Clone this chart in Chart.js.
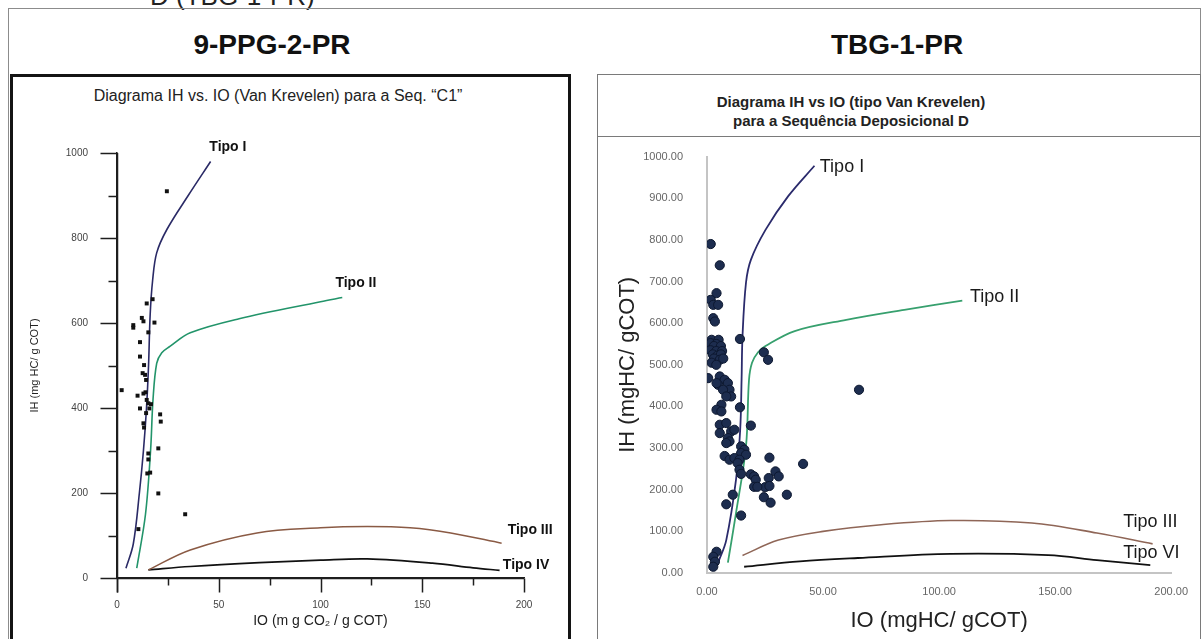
<!DOCTYPE html>
<html>
<head>
<meta charset="utf-8">
<script src="https://cdn.jsdelivr.net/npm/chart.js@4.4.1/dist/chart.umd.min.js"></script>
<style>
  html, body { margin: 0; padding: 0; background: #fff; width: 1203px; height: 639px; overflow: hidden;
    font-family: "Liberation Sans", Arial, sans-serif; color: #111; }
  .abs { position: absolute; }
  .ctr { text-align: center; white-space: nowrap; }
  canvas.abs { z-index: 2; }
  #topcut { left: 150px; top: -19px; font-size: 26px; color: #222; }
  #frame { left: 8px; top: 8px; width: 1193px; height: 640px; border: 1px solid #8c8c8c; box-sizing: border-box; }
  .well { font-weight: bold; font-size: 28px; }
  #leftBox { left: 10px; top: 74px; width: 561px; height: 590px; border: 3px solid #141414; box-sizing: border-box; }
  #leftSub { font-size: 16px; color: #222; }
  #rightBox { left: 597px; top: 74px; width: 604px; height: 590px; border: 1.5px solid #7a7a7a; box-sizing: border-box; }
  #rightHeadLine { left: 597px; top: 136px; width: 604px; height: 0; border-top: 1.5px solid #7a7a7a; }
  .rt { font-size: 15px; font-weight: bold; color: #222; }
</style>
</head>
<body>
<div id="topcut" class="abs">D (TBG-1-PR)</div>
<div id="frame" class="abs"></div>
<div class="abs ctr well" style="left:72px;top:29px;width:400px;">9-PPG-2-PR</div>
<div class="abs ctr well" style="left:697px;top:29px;width:400px;">TBG-1-PR</div>

<div id="leftBox" class="abs"></div>
<div id="leftSub" class="abs ctr" style="left:78px;top:87px;width:400px;">Diagrama IH vs. IO (Van Krevelen) para a Seq. “C1”</div>

<div id="rightBox" class="abs"></div>
<div id="rightHeadLine" class="abs"></div>
<div class="abs ctr rt" style="left:651px;top:93px;width:400px;">Diagrama IH vs IO (tipo Van Krevelen)</div>
<div class="abs ctr rt" style="left:651px;top:112px;width:400px;">para a Sequência Deposicional D</div>

<canvas id="cLeft" class="abs" width="555" height="521" style="left:13px;top:118px;"></canvas>
<canvas id="cRight" class="abs" width="601" height="513" style="left:599px;top:126px;"></canvas>

<script>
// ---------- 9-PPG-2-PR, Seq. "C1" ----------
const c1IO = [24.5, 14.6, 17.5, 8, 8, 12.2, 13, 18.4, 15.4, 11.3, 11.3, 13.3, 12.6, 13.8, 14.3, 2.3, 10.1, 14, 13,
  14.6, 11.3, 15.4, 16.7, 15.9, 14.3, 21.2, 21.5, 13, 13.3, 15.4, 15.4, 20.3, 14.9, 16.3, 20.3, 33.5, 10.5];
const c1IH = [910, 646, 656, 595, 589, 612, 604, 601, 578, 555, 521, 501, 482, 478, 466, 442, 429, 437, 434,
  419, 399, 411, 409, 399, 388, 385, 368, 364, 354, 293, 279, 305, 246, 248, 199, 150, 115];

const c1TipoI_IO = [4.4, 8, 11, 13, 14.5, 15.5, 16.3, 17.5, 19.5, 24.5, 35, 46];
const c1TipoI_IH = [23, 80, 200, 300, 400, 500, 620, 700, 765, 820, 900, 980];
const c1TipoII_IO = [9.7, 14, 16.5, 17.7, 19.5, 22, 26, 36, 60, 100, 110.7];
const c1TipoII_IH = [23, 150, 300, 420, 505, 530, 545, 577, 610, 650, 660];
const c1TipoIII_IO = [15.4, 36, 68.8, 100, 123, 144, 164, 189];
const c1TipoIII_IH = [19, 66, 106, 118, 121, 118, 106, 82];
const c1TipoIV_IO = [15.4, 36, 70, 100, 123, 155, 175, 188];
const c1TipoIV_IH = [19, 27, 36, 42, 45, 35, 24, 18];

// ---------- TBG-1-PR, Sequência Deposicional D ----------
const dIO = [1.6, 5.5, 4.1, 1.6, 2.7, 4.8, 2.7, 3.4, 14.2,
  2, 5, 1.5, 4, 3, 6, 1.5, 4, 6.5, 2.5, 4.5, 6, 3, 5.5, 2, 4, 7,
  24.5, 26.3, 0.5,
  5.5, 7.6, 4.8, 9, 9.7, 6.9, 10.4,
  4.1, 8.3, 6.2, 4.1, 6.2, 14.2,
  5.5, 8.3, 5.5, 10.4, 11.8, 9, 9.7, 8.3, 18.9,
  14.7, 16.1, 14.7, 16.8, 7.6, 9.7, 11.8, 14, 13.2, 26.9, 41.4,
  14, 14.7, 18.9, 20.3, 21, 20.3, 26.6, 29.5, 30.9, 25, 26.9, 21.7, 11.1, 34.4, 24.5, 27.4, 8.3, 14.7,
  4.1, 2.7, 3.4, 2.7,
  65.5];
const dIH = [790, 739, 672, 656, 644, 644, 612, 604, 562,
  560, 560, 552, 550, 545, 545, 535, 533, 533, 525, 522, 525, 515, 512, 505, 500, 515,
  530, 512, 468,
  472, 464, 452, 456, 440, 440, 424,
  456, 424, 404, 392, 388, 398,
  356, 360, 336, 340, 344, 324, 316, 312, 354,
  304, 296, 288, 284, 281, 272, 276, 272, 264, 277, 262,
  248, 238, 237, 232, 224, 207, 228, 244, 232, 206, 209, 207, 188, 188, 182, 169, 165, 138,
  51, 39, 27, 15,
  440];

const dTipoI_IO = [4.8, 8.3, 12.5, 14.3, 14.9, 15.3, 16.8, 18.9, 25.2, 35, 46.3];
const dTipoI_IH = [25, 79, 224, 344, 464, 569, 697, 752, 824, 905, 978];
const dTipoII_IO = [9, 12.5, 16.8, 18.1, 19.4, 22, 25.2, 37.8, 60, 85, 110];
const dTipoII_IH = [25, 144, 304, 464, 505, 530, 545, 581, 608, 632, 654];
const dTipoIII_IO = [15.3, 30.8, 50, 75, 105, 140, 168, 192];
const dTipoIII_IH = [42, 79, 100, 116, 126, 120, 96, 70];
const dTipoVI_IO = [16, 40, 65, 105, 147, 168, 191];
const dTipoVI_IH = [15, 28, 36, 46, 43, 31, 19];

const ihTicks = [0, 200, 400, 600, 800, 1000];
const ioTicks = [0, 50, 100, 150, 200];
const ihMinorTicks = [100, 300, 500, 700, 900];
const ioMinorTicks = [25, 75, 125, 175];
const ihTicksD = [0, 100, 200, 300, 400, 500, 600, 700, 800, 900, 1000];
const ioTicksD = [0, 50, 100, 150, 200];

// ---------- helpers ----------
const FONT = '"Liberation Sans", Arial, sans-serif';
const pts = (xs, ys) => xs.map((v, i) => ({ x: v, y: ys[i] }));
const curve = (xs, ys, color, width) => ({
  data: pts(xs, ys), showLine: true, borderColor: color, borderWidth: width,
  pointRadius: 0, pointHoverRadius: 0, tension: 0.35, fill: false
});

function strokeSegment(ctx, x1, y1, x2, y2) {
  ctx.beginPath();
  ctx.moveTo(x1, y1);
  ctx.lineTo(x2, y2);
  ctx.stroke();
}

// "Tipo" captions anchored in data coordinates
function drawCaptions(chart, items, font, color) {
  const { ctx, scales: { x, y } } = chart;
  ctx.save();
  ctx.font = font;
  ctx.fillStyle = color;
  ctx.textBaseline = 'middle';
  for (const it of items) {
    ctx.textAlign = it.align;
    ctx.fillText(it.text, x.getPixelForValue(it.io), y.getPixelForValue(it.ih));
  }
  ctx.restore();
}

// Axis lines with outward major/minor ticks; the IH axis runs on past the origin
function drawC1Axes(chart) {
  const { ctx, scales: { x, y } } = chart;
  const x0 = Math.round(x.getPixelForValue(0)) + 0.5;
  const y0 = Math.round(y.getPixelForValue(0)) + 0.5;
  ctx.save();
  ctx.strokeStyle = '#1e1e1e';
  ctx.lineWidth = 1.5;
  strokeSegment(ctx, x0, y.getPixelForValue(1000), x0, y0 + 14);
  strokeSegment(ctx, x0, y0, x.getPixelForValue(200), y0);
  ihTicks.forEach(v => { const p = Math.round(y.getPixelForValue(v)) + 0.5; strokeSegment(ctx, x0, p, x0 - 17, p); });
  ihMinorTicks.forEach(v => { const p = Math.round(y.getPixelForValue(v)) + 0.5; strokeSegment(ctx, x0, p, x0 - 9, p); });
  ioTicks.forEach(v => { const p = Math.round(x.getPixelForValue(v)) + 0.5; strokeSegment(ctx, p, y0, p, y0 + 14); });
  ioMinorTicks.forEach(v => { const p = Math.round(x.getPixelForValue(v)) + 0.5; strokeSegment(ctx, p, y0, p, y0 + 7); });
  ctx.restore();
}

const c1Decor = {
  id: 'c1Decor',
  afterDraw(chart) {
    drawC1Axes(chart);
    drawCaptions(chart, [
      { text: 'Tipo I', io: 54.5, ih: 1014, align: 'center' },
      { text: 'Tipo II', io: 117.4, ih: 694, align: 'center' },
      { text: 'Tipo III', io: 203, ih: 113, align: 'center' },
      { text: 'Tipo IV', io: 201, ih: 31, align: 'center' }
    ], 'bold 14px ' + FONT, '#111');
  }
};

const dDecor = {
  id: 'dDecor',
  afterDraw(chart) {
    drawCaptions(chart, [
      { text: 'Tipo I', io: 48.6, ih: 976, align: 'left' },
      { text: 'Tipo II', io: 113.3, ih: 663, align: 'left' },
      { text: 'Tipo III', io: 179.3, ih: 123, align: 'left' },
      { text: 'Tipo VI', io: 179.3, ih: 48, align: 'left' }
    ], '18px ' + FONT, '#1a1a1a');
  }
};

// software-backed 2D contexts keep the hairline axes crisp
const leftCanvas = document.getElementById('cLeft');
const rightCanvas = document.getElementById('cRight');
leftCanvas.getContext('2d', { willReadFrequently: true });
rightCanvas.getContext('2d', { willReadFrequently: true });

// ---------- TBG-1-PR chart ----------
new Chart(rightCanvas, {
  type: 'scatter',
  data: {
    datasets: [
      { data: pts(dIO, dIH), pointStyle: 'circle', pointRadius: 4.6, backgroundColor: '#1d2d4f', borderColor: '#0d1830', borderWidth: 1 },
      curve(dTipoI_IO, dTipoI_IH, '#2b2b6c', 1.8),
      curve(dTipoII_IO, dTipoII_IH, '#37a06e', 1.8),
      curve(dTipoIII_IO, dTipoIII_IH, '#8f6657', 1.6),
      curve(dTipoVI_IO, dTipoVI_IH, '#111', 1.8)
    ]
  },
  options: {
    responsive: false, animation: false, devicePixelRatio: 1,
    layout: { padding: { top: 0, right: 19, left: 0, bottom: 0 } },
    plugins: { legend: { display: false }, tooltip: { enabled: false } },
    scales: {
      x: {
        type: 'linear', min: 0, max: 200,
        afterBuildTicks: s => { s.ticks = ioTicksD.map(v => ({ value: v })); },
        afterFit: s => { s.height = 66; },
        grid: { display: false, drawTicks: false },
        border: { display: true, color: '#c4c4c4', width: 2 },
        ticks: { padding: 12, color: '#666', font: { family: FONT, size: 11 }, callback: v => v.toFixed(2) },
        title: { display: true, text: 'IO (mgHC/ gCOT)', color: '#222', font: { family: FONT, size: 22 }, padding: { top: 0, bottom: 5 } }
      },
      y: {
        type: 'linear', min: 0, max: 1000,
        afterBuildTicks: s => { s.ticks = ihTicksD.map(v => ({ value: v })); },
        afterFit: s => { s.width = 108; },
        grid: { display: false, drawTicks: false },
        border: { display: true, color: '#c4c4c4', width: 2 },
        ticks: { padding: 24, color: '#666', font: { family: FONT, size: 11 }, callback: v => v.toFixed(2) },
        title: { display: true, text: 'IH (mgHC/ gCOT)', color: '#222', font: { family: FONT, size: 22 }, padding: { top: 16, bottom: 0 } }
      }
    }
  },
  plugins: [dDecor]
});

// ---------- 9-PPG-2-PR chart ----------
new Chart(leftCanvas, {
  type: 'scatter',
  data: {
    datasets: [
      { data: pts(c1IO, c1IH), pointStyle: 'rect', pointRadius: 2.8, backgroundColor: '#111', borderColor: '#111', borderWidth: 0 },
      curve(c1TipoI_IO, c1TipoI_IH, '#2a2a66', 1.6),
      curve(c1TipoII_IO, c1TipoII_IH, '#22946a', 1.6),
      curve(c1TipoIII_IO, c1TipoIII_IH, '#8a5a44', 1.5),
      curve(c1TipoIV_IO, c1TipoIV_IH, '#111', 1.7)
    ]
  },
  options: {
    responsive: false, animation: false, devicePixelRatio: 1,
    layout: { padding: { top: 0, right: 44, left: 0, bottom: 0 } },
    plugins: { legend: { display: false }, tooltip: { enabled: false } },
    scales: {
      x: {
        type: 'linear', min: 0, max: 200,
        afterBuildTicks: s => { s.ticks = ioTicks.map(v => ({ value: v })); },
        afterFit: s => { s.height = 61; },
        grid: { display: false, drawTicks: false },
        border: { display: true, color: '#1e1e1e', width: 1.5 },
        ticks: { padding: 21, color: '#444', font: { family: FONT, size: 10 }, callback: v => String(v) },
        title: { display: true, text: 'IO (m g CO₂ / g COT)', color: '#222', font: { family: FONT, size: 14 }, padding: { top: 0, bottom: 9 } }
      },
      y: {
        type: 'linear', min: 0, max: 1000,
        afterBuildTicks: s => { s.ticks = ihTicks.map(v => ({ value: v })); },
        afterFit: s => { s.width = 104; },
        grid: { display: false, drawTicks: false },
        border: { display: true, color: '#1e1e1e', width: 1.5 },
        ticks: { padding: 29, color: '#444', font: { family: FONT, size: 10 }, callback: v => String(v) },
        title: { display: true, text: 'IH (mg HC/ g COT)', color: '#222', font: { family: FONT, size: 11 }, padding: { top: 15, bottom: 0 } }
      }
    }
  },
  plugins: [c1Decor]
});
</script>
</body>
</html>
